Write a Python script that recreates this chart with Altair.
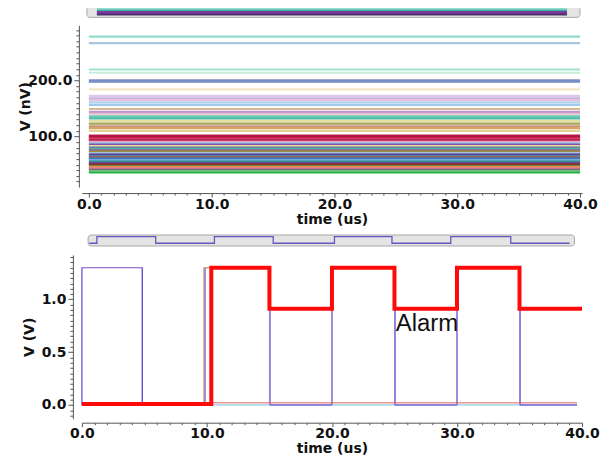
import altair as alt
import pandas as pd

# ---------------- data ----------------
# top panel: flat noise-voltage traces (nV) over 0..40 us
top_levels = [278, 266.5, 219.4, 213.6, 200, 197.7, 184, 172.3, 168, 164.7,
              160.7, 156.4, 149, 144, 140.6, 136, 132.5, 127.7, 123, 118,
              115, 110, 101.5, 99.5, 97.5, 95, 93, 90.5, 88, 85.5,
              83, 80.5, 78, 75.5, 73, 70.5, 68, 65.5, 63, 60.5,
              58, 55.5, 53, 50.5, 48, 45.5, 43, 40.5, 38, 36]
top_colors = ["#8fdccc", "#a9c6de", "#9fe2cf", "#c8ecdc", "#8a88c4", "#6f8fc4", "#f3e7c4", "#d9c9ea", "#c6b0e2", "#e9c1d9",
              "#b2d2f2", "#a0c9ea", "#d9b992", "#c192cb", "#e9b9d1", "#62c9b2", "#4fb9a1", "#e1e1a2", "#a3a353", "#c99181",
              "#d9a163", "#e1d193", "#c2194b", "#a3103f", "#c8284e", "#d24372", "#b31a4a", "#e9a9c2", "#92c9e9", "#8151a9",
              "#e9d9a1", "#6979a9", "#51b1a1", "#a16191", "#919141", "#a1c1e1", "#613181", "#5181b1", "#a16141", "#3b79c9",
              "#71a9e1", "#319991", "#6151a1", "#912131", "#718131", "#e19151", "#e171a1", "#717171", "#81d191", "#22b343"]
top_t = [0.0, 40.0]

# bottom panel signals (V) over 0..40 us
sigA_t = [0.0, 0.0, 4.8, 9.8, 15.0, 20.0, 25.0, 30.0, 35.0, 39.6]
sigA_v = [0.0, 1.3, 0.0, 1.3, 0.0, 1.3, 0.0, 1.3, 0.0, 0.0]
sigB_t = [0.0, 0.0, 4.85, 9.85, 15.05, 20.0, 25.05, 30.0, 35.05, 39.6]
sigB_v = [0.0, 1.3, 0.0, 1.3, 0.0, 1.3, 0.0, 1.3, 0.0, 0.0]
sigC_t = [10.4, 39.6]
sigC_v = [0.02, 0.02]
sigD_t = [0.0, 39.6]
sigD_v = [0.0, 0.0]
sigE_t = [0.0, 9.75, 10.4]
sigE_v = [0.0, 1.3, 1.3]
alarm_t = [0.0, 10.35, 15.0, 20.0, 25.0, 30.0, 35.0, 40.0]
alarm_v = [0.01, 1.3, 0.91, 1.3, 0.91, 1.3, 0.91, 0.91]
alarm_label = ["Alarm"]
alarm_label_t = [25.1]
alarm_label_v = [0.77]

# overview strips
ov_box = [0.01, 0.996]
ov1_stripe_y = [0.8, 0.62, 0.45, 0.25]
ov1_stripe_c = ["#8fe0d0", "#3fb0a0", "#7a3c9c", "#4f2f6f"]
ov1_stripe_w = [2.5, 2.0, 3.0, 2.0]
ov2_box = [0.5, 39.4]
ov2_t = [0.6, 1.2, 1.2, 5.9, 5.9, 10.6, 10.6, 15.3, 15.3, 20.2, 20.2, 24.8, 24.8, 29.5, 29.5, 34.3, 34.3, 39.0]
ov2_v = [0.25, 0.25, 0.85, 0.85, 0.25, 0.25, 0.85, 0.85, 0.25, 0.25, 0.85, 0.85, 0.25, 0.25, 0.85, 0.85, 0.25, 0.25]

# axis labels
top_x_major = [0, 10, 20, 30, 40]
top_y_major = [100, 200]
bot_y_major = [0.0, 0.5, 1.0]

W = 501
FONT = "DejaVu Sans"
AX = dict(grid=False, labelOverlap=False, domainColor="#555", tickColor="#555",
          labelFont=FONT, labelFontWeight="bold", labelFontSize=14, labelColor="#111",
          titleFont=FONT, titleFontWeight="bold", titleFontSize=14, titleColor="#111")

x_minor = list(range(0, 41))
XMAJ = "datum.value % 10 === 0"

def x_axis(offset):
    return alt.Axis(values=x_minor, title="time (us)",
                    labelExpr=XMAJ + " ? format(datum.value, '.1f') : ''",
                    tickSize={"condition": {"test": XMAJ, "value": 4}, "value": 2},
                    labelFlush=False, offset=offset, labelPadding=0, titlePadding=1, **AX)

# ---------------- top overview ----------------
ov1_box_df = pd.DataFrame({"x": [ov_box[0]], "x2": [ov_box[1]]})
ov1_bg = alt.Chart(ov1_box_df).mark_rect(fill="#e4e4e4", stroke="#a8a8a8", strokeWidth=1, cornerRadius=3).encode(
    x=alt.X("x:Q", scale=alt.Scale(domain=[0, 1]), axis=None), x2="x2:Q",
    y=alt.value(0), y2=alt.value(11))
ov1_layers = [ov1_bg]
for yy, cc, ww in zip(ov1_stripe_y, ov1_stripe_c, ov1_stripe_w):
    d = pd.DataFrame({"x": [0.03, 0.97], "y": [yy, yy]})
    ov1_layers.append(alt.Chart(d).mark_line(color=cc, strokeWidth=ww).encode(
        x=alt.X("x:Q", scale=alt.Scale(domain=[0, 1]), axis=None),
        y=alt.Y("y:Q", scale=alt.Scale(domain=[0, 1]), axis=None)))
ov1 = alt.layer(*ov1_layers).properties(width=W, height=11)

# ---------------- top main ----------------
rows = []
for i, (lv, cc) in enumerate(zip(top_levels, top_colors)):
    for t in top_t:
        rows.append({"s": f"s{i:02d}", "t": t, "v": lv})
top_df = pd.DataFrame(rows)
top_series = [f"s{i:02d}" for i in range(len(top_levels))]
TYMAJ = "(datum.value === 100 || datum.value === 200)"

top_main = alt.Chart(top_df).mark_line(strokeWidth=2.2).encode(
    x=alt.X("t:Q", scale=alt.Scale(domain=[-0.57, 40.16], nice=False, zero=False), axis=x_axis(6)),
    y=alt.Y("v:Q", scale=alt.Scale(domain=[10, 298], nice=False, zero=False),
            axis=alt.Axis(values=list(range(20, 300, 10)), title="V (nV)",
                          labelExpr=TYMAJ + " ? format(datum.value, '.1f') : ''",
                          tickSize={"condition": {"test": TYMAJ, "value": 5}, "value": 3},
                          offset=3, labelPadding=2, titleX=-53, titleBaseline="middle", **AX)),
    color=alt.Color("s:N", scale=alt.Scale(domain=top_series, range=top_colors), legend=None),
).properties(width=W, height=162)

# ---------------- bottom overview ----------------
ov2_bg = alt.Chart(pd.DataFrame({"x": [ov2_box[0]], "x2": [ov2_box[1]]})).mark_rect(
    fill="#e4e4e4", stroke="#a8a8a8", strokeWidth=1, cornerRadius=3).encode(
    x=alt.X("x:Q", scale=alt.Scale(domain=[0, 40]), axis=None), x2="x2:Q",
    y=alt.value(0), y2=alt.value(11))
ov2_line = alt.Chart(pd.DataFrame({"t": ov2_t, "v": ov2_v, "o": list(range(len(ov2_t)))})).mark_line(
    color="#6a55c0", strokeWidth=1.3).encode(
    x=alt.X("t:Q", scale=alt.Scale(domain=[0, 40]), axis=None),
    y=alt.Y("v:Q", scale=alt.Scale(domain=[0, 1]), axis=None),
    order="o:Q")
ov2 = alt.layer(ov2_bg, ov2_line).properties(width=W, height=11)

# ---------------- bottom main ----------------
xs = alt.Scale(domain=[0, 40], nice=False, zero=False)
ys = alt.Scale(domain=[-0.13, 1.42], nice=False, zero=False)
bot_y_minor = [round(-0.1 + 0.05 * i, 2) for i in range(31)]
MAJ = "abs(datum.value*2 - round(datum.value*2)) < 0.001"
xb_axis = x_axis(4)
yb_axis = alt.Axis(values=bot_y_minor, title="V (V)",
                   labelExpr=MAJ + " ? format(datum.value, '.1f') : ''",
                   tickSize={"condition": {"test": MAJ, "value": 5}, "value": 3},
                   offset=9, labelPadding=2, titleX=-43, titleBaseline="middle", **AX)

def sig(t, v, color, width, interp="linear"):
    d = pd.DataFrame({"t": t, "v": v, "o": list(range(len(t)))})
    return alt.Chart(d).mark_line(color=color, strokeWidth=width, interpolate=interp).encode(
        x=alt.X("t:Q", scale=xs, axis=xb_axis),
        y=alt.Y("v:Q", scale=ys, axis=yb_axis),
        order="o:Q")

layers = [
    sig(sigD_t, sigD_v, "#6cc6dc", 1.0),
    sig(sigB_t, sigB_v, "#3a3acc", 1.0, "step-after"),
    sig(sigA_t, sigA_v, "#a77ad6", 1.0, "step-after"),
    sig(sigE_t, sigE_v, "#e0a070", 1.0, "step-after"),
    sig(sigC_t, sigC_v, "#e06060", 1.0),
    sig(alarm_t, alarm_v, "#ff0a0a", 4.0, "step-after"),
]
label = alt.Chart(pd.DataFrame({"t": alarm_label_t, "v": alarm_label_v, "txt": alarm_label})).mark_text(
    align="left", baseline="middle", font="Liberation Sans", fontSize=24, color="#111").encode(
    x=alt.X("t:Q", scale=xs, axis=xb_axis), y=alt.Y("v:Q", scale=ys, axis=yb_axis), text="txt:N")
bot_main = alt.layer(*layers, label).properties(width=W, height=164)

top_group = alt.vconcat(ov1, top_main, spacing=3)
bot_group = alt.vconcat(ov2, bot_main, spacing=3)

chart = alt.vconcat(top_group, bot_group, spacing=8).properties(
    padding={"left": 11, "right": 0, "top": -5, "bottom": 0},
    background="white",
).configure_view(stroke=None)

chart.save("out.html", embed_options={"renderer": "svg", "actions": False})
